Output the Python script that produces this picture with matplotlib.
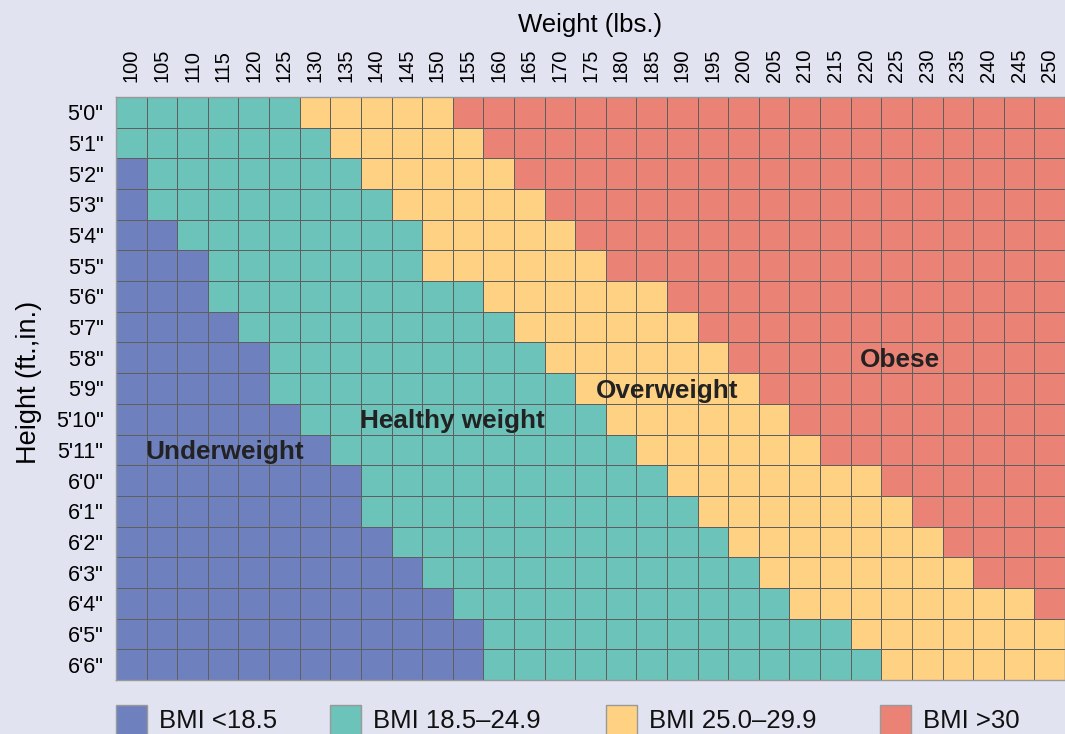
import numpy as np
import matplotlib
matplotlib.use("Agg")
import matplotlib.pyplot as plt
from matplotlib.colors import ListedColormap
from matplotlib.patches import Rectangle

plt.rcParams['font.family'] = ['Liberation Sans', 'DejaVu Sans']

# ================== DATA ==================

weights = [100, 105, 110, 115, 120, 125, 130, 135, 140, 145, 150, 155, 160, 165, 170, 175,
           180, 185, 190, 195, 200, 205, 210, 215, 220, 225, 230, 235, 240, 245, 250]

heights = ['5\'0"', '5\'1"', '5\'2"', '5\'3"', '5\'4"', '5\'5"', '5\'6"', '5\'7"', '5\'8"',
           '5\'9"', '5\'10"', '5\'11"', '6\'0"', '6\'1"', '6\'2"', '6\'3"', '6\'4"',
           '6\'5"', '6\'6"']

# first weight (lbs.) of each BMI band, per height row (None = band not reached)
healthy_from = [100, 100, 105, 105, 110, 115, 115, 120, 125, 125, 130, 135, 140, 140,
                145, 150, 155, 160, 160]
overweight_from = [130, 135, 140, 145, 150, 150, 160, 165, 170, 175, 180, 185, 190, 195,
                   200, 205, 210, 220, 225]
obese_from = [155, 160, 165, 170, 175, 180, 190, 195, 200, 205, 210, 215, 225, 230,
              235, 240, 250, None, None]

categories = ['BMI <18.5', 'BMI 18.5\u201324.9', 'BMI 25.0\u201329.9', 'BMI >30']
region_labels = ['Underweight', 'Healthy weight', 'Overweight', 'Obese']

colors = ['#6F80BE', '#6CC3B9', '#FED183', '#EA8275']
bg = '#E1E3F1'

# ================== GRID ==================

w = np.array(weights)
cat = np.zeros((len(heights), len(weights)), dtype=int)
for i in range(len(heights)):
    cat[i] += (w >= healthy_from[i]).astype(int)
    cat[i] += (w >= overweight_from[i]).astype(int)
    if obese_from[i] is not None:
        cat[i] += (w >= obese_from[i]).astype(int)

W, H = 1065, 734
fig = plt.figure(figsize=(W / 100, H / 100), dpi=100, facecolor=bg)

left, right, top, bottom = 116, 1065, 97, 680
ax = fig.add_axes([left / W, (H - bottom) / H, (right - left) / W, (bottom - top) / H])
ax.set_facecolor(bg)

ax.pcolormesh(np.arange(len(weights) + 1), np.arange(len(heights) + 1), cat,
              cmap=ListedColormap(colors), vmin=-0.5, vmax=3.5,
              edgecolors='#5F5F5F', linewidth=0.7)
ax.set_xlim(0, len(weights))
ax.set_ylim(len(heights), 0)

ax.xaxis.tick_top()
ax.xaxis.set_label_position('top')
ax.set_xticks(np.arange(len(weights)) + 0.5)
ax.set_xticklabels(weights, rotation=90, fontsize=14.5)
ax.set_yticks(np.arange(len(heights)) + 0.5)
ax.set_yticklabels(heights, fontsize=15.5)
ax.tick_params(length=0, pad=9)
ax.tick_params(axis='x', pad=11)
ax.set_xlabel('Weight (lbs.)', fontsize=18.5, labelpad=12)
ax.set_ylabel('Height (ft.,in.)', fontsize=19.5)
ax.yaxis.set_label_coords(-0.078, 0.51)
for s in ax.spines.values():
    s.set_color('#999999')
    s.set_linewidth(1)

# region annotations
label_pos = [(3.55, 11.8), (11.0, 10.8), (18.0, 9.8), (25.6, 8.8)]
for txt, (x, y) in zip(region_labels, label_pos):
    ax.text(x, y, txt, ha='center', va='baseline', fontsize=18.8,
            fontweight='bold', color='#222222')

# ================== LEGEND ==================

legend_x = [116, 330, 606, 880]
for x, c, lab in zip(legend_x, colors, categories):
    fig.add_artist(Rectangle((x / W, (H - 736) / H), 31 / W, 31 / H,
                             transform=fig.transFigure, facecolor=c,
                             edgecolor='#999999', linewidth=1))
    fig.text((x + 43) / W, (H - 721) / H, lab, ha='left', va='center',
             fontsize=18.5, color='#111111')

fig.savefig('out.png', dpi=100, facecolor=bg)
